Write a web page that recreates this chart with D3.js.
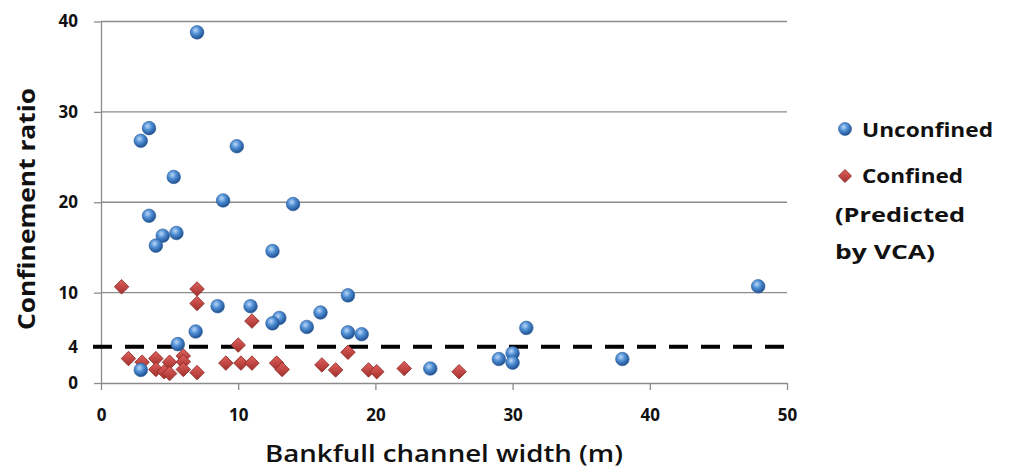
<!DOCTYPE html>
<html>
<head>
<meta charset="utf-8">
<script src="https://d3js.org/d3.v7.min.js"></script>
<style>
  body { margin: 0; background: #fff; }
  text { font-family: "Open Sans", "Noto Sans", sans-serif; fill: #111; }
</style>
</head>
<body>
<script>
// values: [width (m), confinement ratio]
var unconfinedX = [7, 3.5, 2.9, 9.9, 5.3, 8.9, 14, 3.5, 4.5, 5.5, 4, 12.5, 8.5, 10.9, 18, 16, 13, 12.5, 15, 6.9, 18, 19, 5.6, 2.9, 47.9, 31, 29, 30, 30, 38, 24];
var unconfinedY = [38.8, 28.2, 26.8, 26.2, 22.8, 20.2, 19.8, 18.5, 16.3, 16.6, 15.2, 14.6, 8.5, 8.5, 9.7, 7.8, 7.2, 6.6, 6.2, 5.7, 5.6, 5.4, 4.3, 1.45, 10.7, 6.1, 2.65, 3.3, 2.25, 2.65, 1.6];
var confinedX = [1.5, 7, 7, 11, 10, 18, 2, 3, 4, 4, 4.6, 5, 5, 6, 6, 6, 7, 9.1, 10.2, 11, 12.8, 13.2, 16.1, 17.1, 19.5, 20.1, 22.1, 26.1];
var confinedY = [10.65, 10.4, 8.8, 6.85, 4.2, 3.4, 2.7, 2.3, 2.7, 1.5, 1.25, 2.3, 1.05, 3.0, 2.35, 1.5, 1.15, 2.2, 2.2, 2.2, 2.2, 1.5, 2.0, 1.45, 1.45, 1.25, 1.6, 1.25];
var xTicks = [0, 10, 20, 30, 40, 50];
var yTicks = [0, 4, 10, 20, 30, 40];
var gridLines = [10, 20, 30, 40];
var threshold = 4;
var legendLabels = ["Unconfined", "Confined"];
var legendNote = ["(Predicted", "by VCA)"];

var W = 1010, H = 472;
var svg = d3.select("body").append("svg").attr("width", W).attr("height", H);

var x = d3.scaleLinear().domain([0, 50]).range([101, 787]);
var y = d3.scaleLinear().domain([0, 40]).range([383, 21.5]);

var defs = svg.append("defs");
var bg = defs.append("radialGradient").attr("id", "ball").attr("cx", "40%").attr("cy", "35%").attr("r", "65%");
bg.append("stop").attr("offset", "0%").attr("stop-color", "#bcd8f5");
bg.append("stop").attr("offset", "45%").attr("stop-color", "#4f8fd6");
bg.append("stop").attr("offset", "100%").attr("stop-color", "#1f4f8f");
var rg = defs.append("linearGradient").attr("id", "dia").attr("x1", "0").attr("y1", "0").attr("x2", "1").attr("y2", "1");
rg.append("stop").attr("offset", "0%").attr("stop-color", "#e0605c");
rg.append("stop").attr("offset", "100%").attr("stop-color", "#a3302d");

// grid lines
svg.append("g").selectAll("line").data(gridLines).enter().append("line")
  .attr("x1", x(0)).attr("x2", x(50))
  .attr("y1", function(d) { return y(d); }).attr("y2", function(d) { return y(d); })
  .attr("stroke", "#8c8c8c").attr("stroke-width", 1.3);

// x axis
var xAxis = svg.append("g").attr("transform", "translate(0," + y(0) + ")")
  .call(d3.axisBottom(x).tickValues(xTicks).tickSize(7).tickPadding(19).tickSizeOuter(0));
xAxis.select(".domain").attr("stroke", "#8c8c8c").attr("stroke-width", 1.3);
xAxis.selectAll(".tick line").attr("stroke", "#8c8c8c").attr("stroke-width", 1.3);
xAxis.selectAll("text").style("font-size", "17px").style("font-weight", "bold").attr("fill", "#111");

// y axis
var yAxis = svg.append("g").attr("transform", "translate(" + x(0) + ",0)")
  .call(d3.axisLeft(y).tickValues(yTicks).tickSize(7).tickPadding(16).tickSizeOuter(0));
yAxis.select(".domain").attr("stroke", "#8c8c8c").attr("stroke-width", 1.3);
yAxis.selectAll(".tick line").attr("stroke", "#8c8c8c").attr("stroke-width", 1.3);
yAxis.selectAll("text").style("font-size", "17px").style("font-weight", "bold").attr("fill", "#111");

// dashed threshold line
svg.append("line")
  .attr("x1", x(0) - 8).attr("x2", x(50))
  .attr("y1", y(threshold)).attr("y2", y(threshold))
  .attr("stroke", "#000").attr("stroke-width", 4).attr("stroke-dasharray", "19,13");

// points
var diamond = d3.symbol().type(d3.symbolSquare).size(105);
svg.append("g").selectAll("path").data(d3.range(confinedX.length)).enter().append("path")
  .attr("d", diamond)
  .attr("transform", function(i) { return "translate(" + x(confinedX[i]) + "," + y(confinedY[i]) + ") rotate(45)"; })
  .attr("fill", "url(#dia)").attr("stroke", "#8a2a27").attr("stroke-width", 0.8);

svg.append("g").selectAll("circle").data(d3.range(unconfinedX.length)).enter().append("circle")
  .attr("cx", function(i) { return x(unconfinedX[i]); })
  .attr("cy", function(i) { return y(unconfinedY[i]); })
  .attr("r", 6.8)
  .attr("fill", "url(#ball)").attr("stroke", "#2b5d9a").attr("stroke-width", 0.6);

// axis titles
svg.append("text").attr("x", 265).attr("y", 462)
  .attr("textLength", 358).attr("lengthAdjust", "spacingAndGlyphs")
  .style("font-size", "24px").style("font-weight", "600").text("Bankfull channel width (m)");
svg.append("text").attr("transform", "translate(35,330) rotate(-90)")
  .attr("textLength", 242).attr("lengthAdjust", "spacingAndGlyphs")
  .style("font-size", "24px").style("font-weight", "bold").text("Confinement ratio");

// legend
var lg = svg.append("g");
lg.append("circle").attr("cx", 845).attr("cy", 129).attr("r", 6.5).attr("fill", "url(#ball)").attr("stroke", "#2b5d9a").attr("stroke-width", 0.6);
lg.append("path").attr("d", d3.symbol().type(d3.symbolSquare).size(85))
  .attr("transform", "translate(845,176) rotate(45)").attr("fill", "url(#dia)").attr("stroke", "#8a2a27").attr("stroke-width", 0.8);
var labW = [131, 101];
lg.selectAll("text.lab").data(legendLabels).enter().append("text").attr("class", "lab")
  .attr("x", 862).attr("y", function(d, i) { return 137 + i * 46; })
  .attr("textLength", function(d, i) { return labW[i]; }).attr("lengthAdjust", "spacingAndGlyphs")
  .style("font-size", "20px").style("font-weight", "bold").text(function(d) { return d; });
var noteW = [130, 100];
lg.selectAll("text.note").data(legendNote).enter().append("text").attr("class", "note")
  .attr("x", 835).attr("y", function(d, i) { return 222 + i * 37; })
  .attr("textLength", function(d, i) { return noteW[i]; }).attr("lengthAdjust", "spacingAndGlyphs")
  .style("font-size", "20px").style("font-weight", "bold").text(function(d) { return d; });
</script>
</body>
</html>
